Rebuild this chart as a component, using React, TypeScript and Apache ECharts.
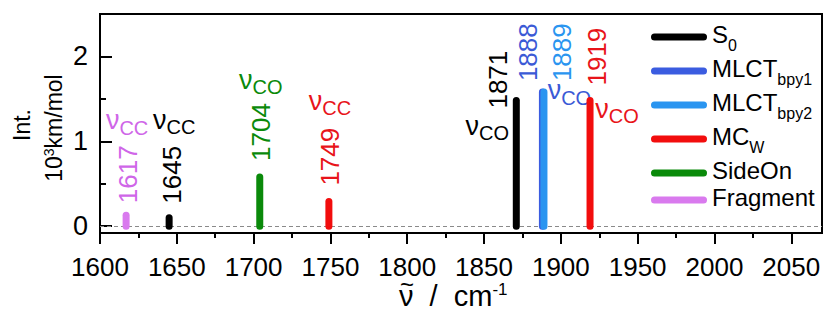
import React, { useEffect, useRef } from "react";
import * as echarts from "echarts";

const FONT = '"Liberation Sans", Arial, sans-serif';

// ---- data ----
const seriesNames = ["S0", "MLCT_bpy1", "MLCT_bpy2", "MC_W", "SideOn", "Fragment"];

const s0Wavenumbers = [1645, 1871];
const s0Intensities = [0.1, 1.48];
const s0Modes = ["CC", "CO"];

const mlct1Wavenumbers = [1888];
const mlct1Intensities = [1.58];
const mlct1Modes = ["CO"];

const mlct2Wavenumbers = [1889];
const mlct2Intensities = [1.58];
const mlct2Modes = [""];

const mcwWavenumbers = [1749, 1919];
const mcwIntensities = [0.29, 1.48];
const mcwModes = ["CC", "CO"];

const sideOnWavenumbers = [1704];
const sideOnIntensities = [0.58];
const sideOnModes = ["CO"];

const fragmentWavenumbers = [1617];
const fragmentIntensities = [0.13];
const fragmentModes = ["CC"];

const xMajorTicks = [1600, 1650, 1700, 1750, 1800, 1850, 1900, 1950, 2000, 2050];
const xMinorTicks = [1625, 1675, 1725, 1775, 1825, 1875, 1925, 1975, 2025];
const yMajorTicks = [0, 1, 2];
const yMinorTicks = [0.5, 1.5];

// ---- styles / layout ----
const colors = ["#000000", "#3b5ce0", "#2a95f0", "#f20d0d", "#0a8a0a", "#d97aee"];
const textColors = ["#000000", "#3b5ad6", "#2a95f0", "#e8141a", "#0a8a0a", "#cf66e8"];

// pixel offsets of the labels from the top of each bar
const labelLayout: Record<number, { num: [number, number]; nu?: [number, number] }> = {
  1617: { num: [2, -12], nu: [1, -95] },
  1645: { num: [3, -14], nu: [5, -98] },
  1704: { num: [1, -16], nu: [1, -97] },
  1749: { num: [1, -16], nu: [1, -101] },
  1871: { num: [-18, 8], nu: [-29, 25] },
  1888: { num: [-14, -11], nu: [27, -2] },
  1889: { num: [18, -11] },
  1919: { num: [7, -15], nu: [27, 8] },
};

const legendRich: Record<string, string> = {
  S0: "{m|S}{s|0}",
  MLCT_bpy1: "{m|MLCT}{s|bpy1}",
  MLCT_bpy2: "{m|MLCT}{s|bpy2}",
  MC_W: "{m|MC}{s|W}",
  SideOn: "{m|SideOn}",
  Fragment: "{m|Fragment}",
};

const groups = [
  { w: s0Wavenumbers, v: s0Intensities, m: s0Modes },
  { w: mlct1Wavenumbers, v: mlct1Intensities, m: mlct1Modes },
  { w: mlct2Wavenumbers, v: mlct2Intensities, m: mlct2Modes },
  { w: mcwWavenumbers, v: mcwIntensities, m: mcwModes },
  { w: sideOnWavenumbers, v: sideOnIntensities, m: sideOnModes },
  { w: fragmentWavenumbers, v: fragmentIntensities, m: fragmentModes },
];

const pillIcon = "path://M3.5 0H52.5A3.5 3.5 0 0 1 52.5 7H3.5A3.5 3.5 0 0 1 3.5 0Z";

function buildSeries() {
  return groups.map((g, si) => {
    const color = colors[si];
    const tcolor = textColors[si];
    const s: any = {
      type: "custom",
      name: seriesNames[si],
      itemStyle: { color },
      data: g.w.map((w, i) => [w, g.v[i]]),
      z: 3 + si,
      renderItem: (params: any, api: any) => {
        const x = api.value(0);
        const v = api.value(1);
        const base = api.coord([x, 0]);
        const top = api.coord([x, v]);
        const mode = g.m[params.dataIndex];
        const lay = labelLayout[x];
        const children: any[] = [
          {
            type: "line",
            shape: { x1: base[0], y1: base[1], x2: top[0], y2: top[1] },
            style: { stroke: color, lineWidth: 7, lineCap: "round" },
          },
        ];
        if (lay) {
          children.push({
            type: "text",
            x: top[0] + lay.num[0],
            y: top[1] + lay.num[1],
            rotation: Math.PI / 2,
            style: {
              text: String(x),
              fill: tcolor,
              fontSize: 26,
              fontFamily: FONT,
              align: "left",
              verticalAlign: "middle",
            },
          });
          if (lay.nu && mode) {
            children.push({
              type: "text",
              x: top[0] + lay.nu[0],
              y: top[1] + lay.nu[1],
              style: {
                text: `{n|\u03BD}{s|${mode}}`,
                fill: tcolor,
                align: "center",
                verticalAlign: "middle",
                rich: {
                  n: { fontSize: 27, lineHeight: 27, verticalAlign: "top", fontFamily: FONT, fill: tcolor },
                  s: {
                    fontSize: 20,
                    lineHeight: 20,
                    padding: [11, 0, 0, 0],
                    verticalAlign: "top",
                    fontFamily: FONT,
                    fill: tcolor,
                  },
                },
              },
            });
          }
        }
        return { type: "group", children };
      },
    };
    if (si === 0) {
      s.markLine = {
        silent: true,
        symbol: "none",
        label: { show: false },
        lineStyle: { type: [4, 3], color: "#8a8a8a", width: 1 },
        data: [{ yAxis: 0 }],
        z: 1,
      };
    }
    return s;
  });
}

const axisColor = "#000";
const plain = (v: number) => String(v);

const option: any = {
  animation: false,
  textStyle: { fontFamily: FONT },
  grid: {
    left: 100,
    right: 3,
    top: 14,
    bottom: 89,
    show: true,
    borderColor: axisColor,
    borderWidth: 2,
    containLabel: false,
    outerBoundsMode: "none",
  },
  legend: {
    orient: "vertical",
    left: 651,
    top: 22,
    padding: 0,
    itemWidth: 56,
    itemHeight: 7,
    itemGap: 3,
    selectedMode: false,
    data: seriesNames.map((n) => ({ name: n, icon: pillIcon })),
    formatter: (n: string) => legendRich[n] || n,
    textStyle: {
      color: "#000",
      rich: {
        m: { fontSize: 24, lineHeight: 30, verticalAlign: "top", fontFamily: FONT, color: "#000" },
        s: {
          fontSize: 16,
          lineHeight: 15,
          padding: [15, 0, 0, 0],
          verticalAlign: "top",
          fontFamily: FONT,
          color: "#000",
        },
      },
    },
  },
  xAxis: [
    {
      type: "value",
      min: 1600,
      max: 2070,
      position: "bottom",
      axisLine: { show: true, onZero: false, lineStyle: { color: axisColor, width: 2 } },
      axisTick: { show: true, length: 11, lineStyle: { color: axisColor, width: 2 }, customValues: xMajorTicks },
      axisLabel: {
        customValues: xMajorTicks,
        formatter: plain,
        fontSize: 26,
        color: "#000",
        margin: 21,
        fontFamily: FONT,
      },
      splitLine: { show: false },
    },
    {
      type: "value",
      min: 1600,
      max: 2070,
      position: "bottom",
      axisLine: { show: false, onZero: false },
      axisTick: { show: true, length: 5, lineStyle: { color: axisColor, width: 2 }, customValues: xMinorTicks },
      axisLabel: { show: false },
      splitLine: { show: false },
    },
  ],
  yAxis: [
    {
      type: "value",
      min: -0.08,
      max: 2.5,
      position: "left",
      axisLine: { show: true, onZero: false, lineStyle: { color: axisColor, width: 2 } },
      axisTick: {
        show: true,
        inside: true,
        length: 12,
        lineStyle: { color: axisColor, width: 2 },
        customValues: yMajorTicks,
      },
      axisLabel: {
        customValues: yMajorTicks,
        formatter: plain,
        fontSize: 27,
        color: "#000",
        margin: 12,
        fontFamily: FONT,
      },
      splitLine: { show: false },
    },
    {
      type: "value",
      min: -0.08,
      max: 2.5,
      position: "left",
      axisLine: { show: false, onZero: false },
      axisTick: {
        show: true,
        inside: true,
        length: 6,
        lineStyle: { color: axisColor, width: 2 },
        customValues: yMinorTicks,
      },
      axisLabel: { show: false },
      splitLine: { show: false },
    },
  ],
  graphic: [
    {
      type: "text",
      x: 22,
      y: 125,
      rotation: Math.PI / 2,
      style: { text: "Int.", fontSize: 23, fontFamily: FONT, fill: "#000", align: "center", verticalAlign: "middle" },
    },
    {
      type: "text",
      x: 55,
      y: 128,
      rotation: Math.PI / 2,
      style: {
        text: "{b|10}{p|3}{b|km/mol}",
        fill: "#000",
        align: "center",
        verticalAlign: "middle",
        rich: {
          b: { fontSize: 23, lineHeight: 26, verticalAlign: "top", fontFamily: FONT, fill: "#000" },
          p: { fontSize: 14, lineHeight: 14, verticalAlign: "top", fontFamily: FONT, fill: "#000" },
        },
      },
    },
    {
      type: "text",
      x: 399,
      y: 298,
      style: {
        text: "{n|\u03BD  /  cm}{s|-1}",
        fill: "#000",
        align: "left",
        verticalAlign: "middle",
        rich: {
          n: { fontSize: 29, lineHeight: 34, verticalAlign: "top", fontFamily: FONT, fill: "#000" },
          s: { fontSize: 17, lineHeight: 17, verticalAlign: "top", fontFamily: FONT, fill: "#000" },
        },
      },
    },
    {
      type: "text",
      x: 407,
      y: 284,
      style: { text: "~", fontSize: 24, fontFamily: FONT, fill: "#000", align: "center", verticalAlign: "middle" },
    },
  ],
  series: buildSeries(),
};

export default function App() {
  const ref = useRef<HTMLDivElement>(null);
  useEffect(() => {
    const chart = echarts.init(ref.current!, null, { renderer: "svg" });
    chart.setOption(option);
    return () => chart.dispose();
  }, []);
  return (
    <div
      ref={ref}
      style={{ position: "fixed", left: 0, top: 0, width: 825, height: 322, background: "#fff" }}
    />
  );
}
